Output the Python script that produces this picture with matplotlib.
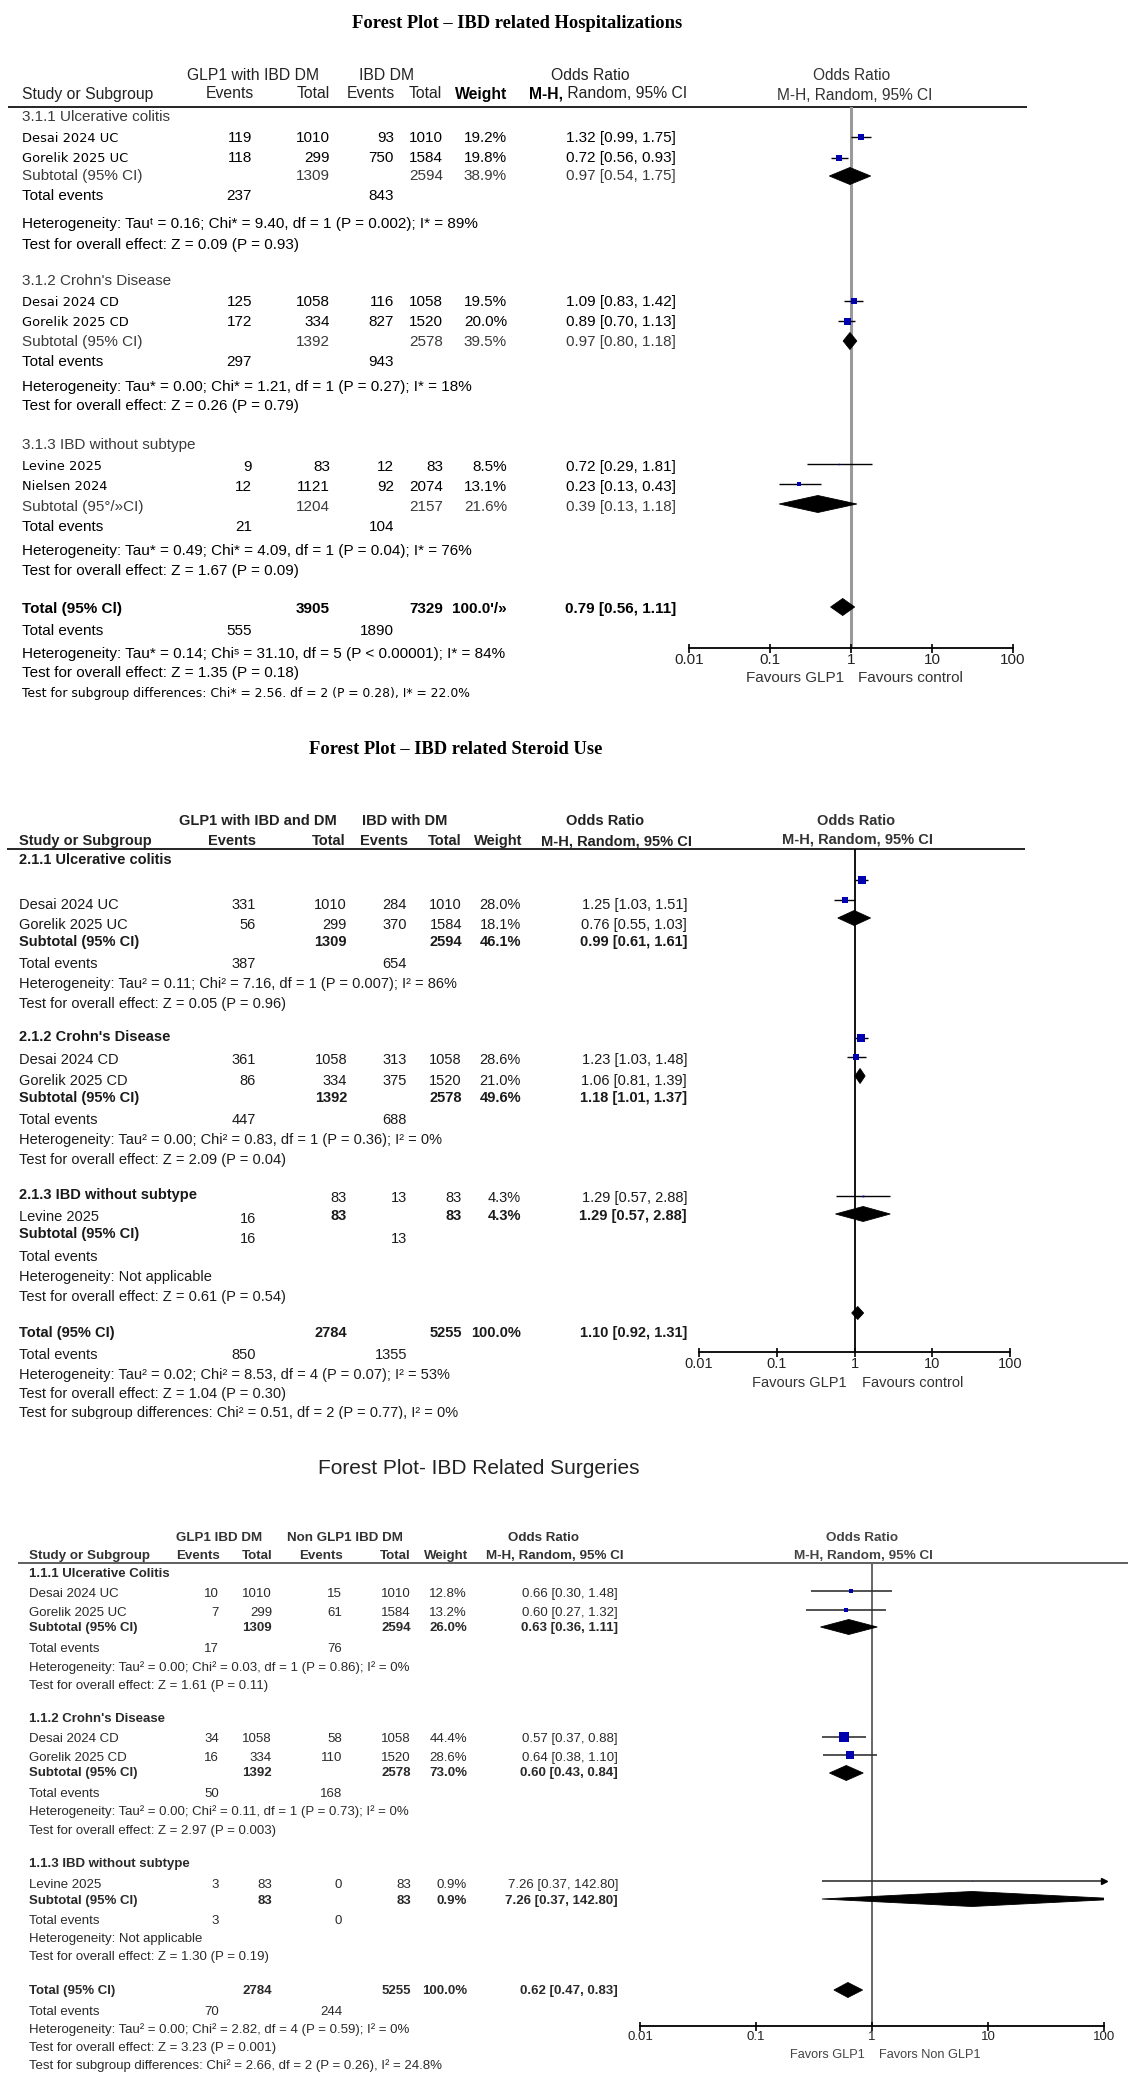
import matplotlib
matplotlib.use("Agg")
import matplotlib.pyplot as plt
from matplotlib.patches import Polygon, Rectangle
from matplotlib.ticker import NullLocator, FixedLocator, FixedFormatter

SANS = ['Liberation Sans', 'DejaVu Sans']
SERIF = ['Liberation Serif', 'DejaVu Serif']
plt.rcParams['font.family'] = SANS

# ======================= DATA =======================
tick_vals = [0.01, 0.1, 1, 10, 100]
tick_labels = ["0.01", "0.1", "1", "10", "100"]

# ---- Panel 1: IBD related hospitalizations ----
hosp_title = "Forest Plot – IBD related Hospitalizations"
hosp_groups = ["3.1.1 Ulcerative colitis", "3.1.2 Crohn's Disease", "3.1.3 IBD without subtype"]
hosp_studies = ["Desai 2024 UC", "Gorelik 2025 UC", "Desai 2024 CD", "Gorelik 2025 CD", "Levine 2025", "Nielsen 2024"]
hosp_ev1 = [119, 118, 125, 172, 9, 12]
hosp_tot1 = [1010, 299, 1058, 334, 83, 1121]
hosp_ev2 = [93, 750, 116, 827, 12, 92]
hosp_tot2 = [1010, 1584, 1058, 1520, 83, 2074]
hosp_wt = [19.2, 19.8, 19.5, 20.0, 8.5, 13.1]
hosp_or = [1.32, 0.72, 1.09, 0.89, 0.72, 0.23]
hosp_lo = [0.99, 0.56, 0.83, 0.70, 0.29, 0.13]
hosp_hi = [1.75, 0.93, 1.42, 1.13, 1.81, 0.43]
hosp_sub_label = ["Subtotal (95% CI)", "Subtotal (95% CI)", "Subtotal (95°/»CI)"]
hosp_sub_tot1 = [1309, 1392, 1204]
hosp_sub_tot2 = [2594, 2578, 2157]
hosp_sub_wt = [38.9, 39.5, 21.6]
hosp_sub_or = [0.97, 0.97, 0.39]
hosp_sub_lo = [0.54, 0.80, 0.13]
hosp_sub_hi = [1.75, 1.18, 1.18]
hosp_sub_ev1 = [237, 297, 21]
hosp_sub_ev2 = [843, 943, 104]
hosp_het = ["Heterogeneity: Tauᵗ = 0.16; Chi* = 9.40, df = 1 (P = 0.002); I* = 89%",
            "Heterogeneity: Tau* = 0.00; Chi* = 1.21, df = 1 (P = 0.27); I* = 18%",
            "Heterogeneity: Tau* = 0.49; Chi* = 4.09, df = 1 (P = 0.04); I* = 76%"]
hosp_test = ["Test for overall effect: Z = 0.09 (P = 0.93)",
             "Test for overall effect: Z = 0.26 (P = 0.79)",
             "Test for overall effect: Z = 1.67 (P = 0.09)"]
hosp_total = [3905, 7329, "100.0'/»", 0.79, 0.56, 1.11]
hosp_total_ev = [555, 1890]
hosp_total_het = "Heterogeneity: Tau* = 0.14; Chiˢ = 31.10, df = 5 (P < 0.00001); I* = 84%"
hosp_total_test = "Test for overall effect: Z = 1.35 (P = 0.18)"
hosp_subgroup = "Test for subgroup differences: Chi* = 2.56. df = 2 (P = 0.28), I* = 22.0%"

# ---- Panel 2: IBD related steroid use ----
ster_title = "Forest Plot – IBD related Steroid Use"
ster_groups = ["2.1.1 Ulcerative colitis", "2.1.2 Crohn's Disease", "2.1.3 IBD without subtype"]
ster_studies = ["Desai 2024 UC", "Gorelik 2025 UC", "Desai 2024 CD", "Gorelik 2025 CD", "Levine 2025"]
ster_ev1 = [331, 56, 361, 86, 16]
ster_tot1 = [1010, 299, 1058, 334, 83]
ster_ev2 = [284, 370, 313, 375, 13]
ster_tot2 = [1010, 1584, 1058, 1520, 83]
ster_wt = [28.0, 18.1, 28.6, 21.0, 4.3]
ster_or = [1.25, 0.76, 1.23, 1.06, 1.29]
ster_lo = [1.03, 0.55, 1.03, 0.81, 0.57]
ster_hi = [1.51, 1.03, 1.48, 1.39, 2.88]
ster_sub_tot1 = [1309, 1392, 83]
ster_sub_tot2 = [2594, 2578, 83]
ster_sub_wt = [46.1, 49.6, 4.3]
ster_sub_or = [0.99, 1.18, 1.29]
ster_sub_lo = [0.61, 1.01, 0.57]
ster_sub_hi = [1.61, 1.37, 2.88]
ster_sub_ev1 = [387, 447, 16]
ster_sub_ev2 = [654, 688, 13]
ster_het = ["Heterogeneity: Tau² = 0.11; Chi² = 7.16, df = 1 (P = 0.007); I² = 86%",
            "Heterogeneity: Tau² = 0.00; Chi² = 0.83, df = 1 (P = 0.36); I² = 0%",
            "Heterogeneity: Not applicable"]
ster_test = ["Test for overall effect: Z = 0.05 (P = 0.96)",
             "Test for overall effect: Z = 2.09 (P = 0.04)",
             "Test for overall effect: Z = 0.61 (P = 0.54)"]
ster_total = [2784, 5255, "100.0%", 1.10, 0.92, 1.31]
ster_total_ev = [850, 1355]
ster_total_het = "Heterogeneity: Tau² = 0.02; Chi² = 8.53, df = 4 (P = 0.07); I² = 53%"
ster_total_test = "Test for overall effect: Z = 1.04 (P = 0.30)"
ster_subgroup = "Test for subgroup differences: Chi² = 0.51, df = 2 (P = 0.77), I² = 0%"

# ---- Panel 3: IBD related surgeries ----
surg_title = "Forest Plot- IBD Related Surgeries"
surg_groups = ["1.1.1 Ulcerative Colitis", "1.1.2 Crohn's Disease", "1.1.3 IBD without subtype"]
surg_studies = ["Desai 2024 UC", "Gorelik 2025 UC", "Desai 2024 CD", "Gorelik 2025 CD", "Levine 2025"]
surg_ev1 = [10, 7, 34, 16, 3]
surg_tot1 = [1010, 299, 1058, 334, 83]
surg_ev2 = [15, 61, 58, 110, 0]
surg_tot2 = [1010, 1584, 1058, 1520, 83]
surg_wt = [12.8, 13.2, 44.4, 28.6, 0.9]
surg_or = [0.66, 0.60, 0.57, 0.64, 7.26]
surg_lo = [0.30, 0.27, 0.37, 0.38, 0.37]
surg_hi = [1.48, 1.32, 0.88, 1.10, 142.80]
surg_sub_tot1 = [1309, 1392, 83]
surg_sub_tot2 = [2594, 2578, 83]
surg_sub_wt = [26.0, 73.0, 0.9]
surg_sub_or = [0.63, 0.60, 7.26]
surg_sub_lo = [0.36, 0.43, 0.37]
surg_sub_hi = [1.11, 0.84, 142.80]
surg_sub_ev1 = [17, 50, 3]
surg_sub_ev2 = [76, 168, 0]
surg_het = ["Heterogeneity: Tau² = 0.00; Chi² = 0.03, df = 1 (P = 0.86); I² = 0%",
            "Heterogeneity: Tau² = 0.00; Chi² = 0.11, df = 1 (P = 0.73); I² = 0%",
            "Heterogeneity: Not applicable"]
surg_test = ["Test for overall effect: Z = 1.61 (P = 0.11)",
             "Test for overall effect: Z = 2.97 (P = 0.003)",
             "Test for overall effect: Z = 1.30 (P = 0.19)"]
surg_total = [2784, 5255, "100.0%", 0.62, 0.47, 0.83]
surg_total_ev = [70, 244]
surg_total_het = "Heterogeneity: Tau² = 0.00; Chi² = 2.82, df = 4 (P = 0.59); I² = 0%"
surg_total_test = "Test for overall effect: Z = 3.23 (P = 0.001)"
surg_subgroup = "Test for subgroup differences: Chi² = 2.66, df = 2 (P = 0.26), I² = 24.8%"

# ======================= HELPERS =======================
W, H = 1148, 2092
fig = plt.figure(figsize=(W / 100, H / 100), dpi=100)
fig.patch.set_facecolor('white')
bg = fig.add_axes([0, 0, 1, 1])
bg.set_xlim(0, W)
bg.set_ylim(H, 0)
bg.axis('off')
BLUE = '#0000b0'


def txt(x, y, s, ha='left', size=10, weight='normal', color='black', family=SANS, z=3):
    return bg.text(x, y, s, ha=ha, va='center', fontsize=size, fontweight=weight,
                   color=color, family=family, zorder=z)


def fmt_or(e, l, h):
    return f"{e:.2f} [{l:.2f}, {h:.2f}]"


def pct(w):
    return f"{w:.1f}%"


def hline(x0, x1, y, lw=1.2, color='black'):
    bg.plot([x0, x1], [y, y], color=color, lw=lw, solid_capstyle='butt', zorder=2)


def forest(x001, x100, ytop, ybot, lab_size, lab_color, spine_lw=1.3):
    ax = fig.add_axes([x001 / W, 1 - ybot / H, (x100 - x001) / W, (ybot - ytop) / H])
    ax.set_xscale('log')
    ax.set_xlim(0.01, 100)
    ax.set_ylim(ybot, ytop)
    ax.patch.set_visible(False)
    for s in ('top', 'left', 'right'):
        ax.spines[s].set_visible(False)
    ax.spines['bottom'].set_linewidth(spine_lw)
    ax.set_yticks([])
    ax.xaxis.set_major_locator(FixedLocator(tick_vals))
    ax.xaxis.set_major_formatter(FixedFormatter(tick_labels))
    ax.xaxis.set_minor_locator(NullLocator())
    ax.tick_params(axis='x', direction='inout', length=9 * 0.72, width=1.2, pad=0,
                   labelsize=lab_size, labelcolor=lab_color)
    return ax


def study_mark(ax, est, lo, hi, y, size_px, ci_color='black', lw=1.0):
    ax.plot([lo, min(hi, 100)], [y, y], color=ci_color, lw=lw, solid_capstyle='butt', zorder=2)
    if hi > 100:
        ax.plot([100], [y], marker='>', ms=5, color='black', clip_on=False, zorder=3)
    ax.plot([est], [y], marker='s', ms=max(size_px, 0.3) * 0.72, color=BLUE, mec=BLUE, mew=0, zorder=3)


def diamond(ax, est, lo, hi, y, h):
    ax.add_patch(Polygon([[lo, y], [est, y - h], [hi, y], [est, y + h]], closed=True,
                         fc='black', ec='black', lw=0.6, zorder=3))


def favours(ax, left, right, dy, gap, size, color):
    ax.annotate(left, xy=(1, 0), xycoords=('data', 'axes fraction'),
                xytext=(-gap * 0.72, -dy * 0.72), textcoords='offset points',
                ha='right', va='center', fontsize=size, color=color, annotation_clip=False)
    ax.annotate(right, xy=(1, 0), xycoords=('data', 'axes fraction'),
                xytext=(gap * 0.72, -dy * 0.72), textcoords='offset points',
                ha='left', va='center', fontsize=size, color=color, annotation_clip=False)


def vals_row(c, y, vals, size, weight='normal', color='black', keys=('ev1', 'tot1', 'ev2', 'tot2', 'wt', 'orr')):
    for k, v in zip(keys, vals):
        if v is None:
            continue
        txt(c[k], y, str(v), ha='right', size=size, weight=weight, color=color)


# ======================= PANEL 1 =======================
c1 = dict(ev1=252, tot1=330, ev2=394, tot2=443, wt=507, orr=676)
fs1 = 11
g1 = '#3a3a3a'
txt(517, 24, hosp_title, ha='center', size=13.3, weight='bold', family=SERIF)
txt(187, 76, "GLP1 with IBD DM", size=11.3, color='#222')
txt(359, 76, "IBD DM", size=11.3, color='#222')
txt(590, 76, "Odds Ratio", ha='center', size=11.3, color='#222')
txt(22, 94, "Study or Subgroup", size=11.3, color='#222')
for x, s in [(254, "Events"), (330, "Total"), (395, "Events"), (442, "Total")]:
    txt(x, 94, s, ha='right', size=11.3, color='#222')
txt(507, 94, "Weight", ha='right', size=11.3, weight='bold')
t_mh = txt(529, 94, "M-H,", size=11.3, weight='bold')
bg.annotate(" Random, 95% CI", xy=(1, 0.5), xycoords=t_mh, va='center', ha='left',
            fontsize=11.3, color='#222')
hline(8, 1027, 107)

h_grp_y = [117, 281, 445]
h_study_y = [138, 158, 302, 322, 467, 487]
h_mark_y = [137, 158, 301, 321, 464, 484]
h_sub_y = [176, 342, 507]
h_dia_y = [176, 341, 504]
h_tev_y = [196, 362, 527]
h_het_y = [224, 387, 551]
h_test_y = [245, 406, 571]
h_group_of = [0, 0, 1, 1, 2, 2]

ax1 = forest(689, 1013, 107, 648, 11, '#222')
ax1.axvline(1, color='#9a9a9a', lw=2.2, zorder=1)
txt(852, 75, "Odds Ratio", ha='center', size=11.2, color='#333')
txt(855, 95, "M-H, Random, 95% CI", ha='center', size=11.2, color='#333')
favours(ax1, "Favours GLP1", "Favours control", 30, 7, 11, '#333')

for g in range(3):
    txt(22, h_grp_y[g], hosp_groups[g], size=fs1, color=g1)
    for i in [k for k, gg in enumerate(h_group_of) if gg == g]:
        y = h_study_y[i]
        txt(22, y, hosp_studies[i], size=9.4, family=['DejaVu Sans'])
        vals_row(c1, y, [hosp_ev1[i], hosp_tot1[i], hosp_ev2[i], hosp_tot2[i], pct(hosp_wt[i]),
                         fmt_or(hosp_or[i], hosp_lo[i], hosp_hi[i])], fs1)
        box = 7 * (max(hosp_wt[i] - 8.0, 0) / 12.0) ** 0.5
        study_mark(ax1, hosp_or[i], hosp_lo[i], hosp_hi[i], h_mark_y[i], box)
    y = h_sub_y[g]
    txt(22, y, hosp_sub_label[g], size=fs1, color=g1)
    vals_row(c1, y, [None, hosp_sub_tot1[g], None, hosp_sub_tot2[g], pct(hosp_sub_wt[g]),
                     fmt_or(hosp_sub_or[g], hosp_sub_lo[g], hosp_sub_hi[g])], fs1, color=g1)
    diamond(ax1, hosp_sub_or[g], hosp_sub_lo[g], hosp_sub_hi[g], h_dia_y[g], 8.5)
    txt(22, h_tev_y[g], "Total events", size=fs1)
    vals_row(c1, h_tev_y[g], [hosp_sub_ev1[g], None, hosp_sub_ev2[g]], fs1)
    txt(22, h_het_y[g], hosp_het[g], size=fs1)
    txt(22, h_test_y[g], hosp_test[g], size=fs1)

txt(22, 609, "Total (95% Cl)", size=fs1, weight='bold')
vals_row(c1, 609, [None, hosp_total[0], None, hosp_total[1], hosp_total[2],
                   fmt_or(hosp_total[3], hosp_total[4], hosp_total[5])], fs1, weight='bold')
diamond(ax1, hosp_total[3], hosp_total[4], hosp_total[5], 607, 8.5)
txt(22, 631, "Total events", size=fs1)
vals_row(c1, 631, [hosp_total_ev[0], None, hosp_total_ev[1]], fs1)
txt(22, 654, hosp_total_het, size=fs1)
txt(22, 673, hosp_total_test, size=fs1)
txt(22, 693, hosp_subgroup, size=8.9, family=['DejaVu Sans'])

# ======================= PANEL 2 =======================
c2 = dict(ev1=256, tot1=347, ev2=407, tot2=462, wt=521, orr=687)
fs2 = 10.5
k2 = '#1a1a1a'
txt(456, 750, ster_title, ha='center', size=13.3, weight='bold', family=SERIF)
txt(179, 821, "GLP1 with IBD and DM", size=10.5, weight='bold', color='#222')
txt(362, 821, "IBD with DM", size=10.5, weight='bold', color='#222')
txt(605, 821, "Odds Ratio", ha='center', size=10.5, weight='bold', color='#222')
txt(19, 841, "Study or Subgroup", size=10.5, weight='bold', color='#222')
for x, s in [(256, "Events"), (346, "Total"), (408, "Events"), (461, "Total"), (522, "Weight"),
             (692, "M-H, Random, 95% CI")]:
    txt(x, 841, s, ha='right', size=10.5, weight='bold', color='#222')
hline(7, 1025, 849)

s_grp_y = [860, 1037, 1195]
s_study_y = [905, 925, 1060, 1081]
s_mark_y = [880, 900, 1038, 1057, 1196]
s_sub_y = [942, 1098]
s_dia_y = [918, 1076, 1214]
s_tev_y = [964, 1120]
s_het_y = [984, 1140, 1277]
s_test_y = [1004, 1160, 1297]

ax2 = forest(699, 1010, 849, 1352, 10.5, '#222')
ax2.axvline(1, color='black', lw=1.3, zorder=1)
txt(856, 821, "Odds Ratio", ha='center', size=10.5, weight='bold', color='#333')
txt(857, 840, "M-H, Random, 95% CI", ha='center', size=10.5, weight='bold', color='#333')
favours(ax2, "Favours GLP1", "Favours control", 31, 8, 10.5, '#333')

for i in range(5):
    study_mark(ax2, ster_or[i], ster_lo[i], ster_hi[i], s_mark_y[i], 7.5 * (ster_wt[i] / 28.6) ** 0.75)
for g in range(3):
    diamond(ax2, ster_sub_or[g], ster_sub_lo[g], ster_sub_hi[g], s_dia_y[g], 7.5)
    txt(19, s_grp_y[g], ster_groups[g], size=fs2, weight='bold', color=k2)
    txt(19, s_het_y[g], ster_het[g], size=fs2, color=k2)
    txt(19, s_test_y[g], ster_test[g], size=fs2, color=k2)
for g in range(2):
    for i in (2 * g, 2 * g + 1):
        y = s_study_y[i]
        txt(19, y, ster_studies[i], size=fs2, color=k2)
        vals_row(c2, y, [ster_ev1[i], ster_tot1[i], ster_ev2[i], ster_tot2[i], pct(ster_wt[i]),
                         fmt_or(ster_or[i], ster_lo[i], ster_hi[i])], fs2, color=k2)
    y = s_sub_y[g]
    txt(19, y, "Subtotal (95% CI)", size=fs2, weight='bold', color=k2)
    vals_row(c2, y, [None, ster_sub_tot1[g], None, ster_sub_tot2[g], pct(ster_sub_wt[g]),
                     fmt_or(ster_sub_or[g], ster_sub_lo[g], ster_sub_hi[g])], fs2, weight='bold', color=k2)
    txt(19, s_tev_y[g], "Total events", size=fs2, color=k2)
    vals_row(c2, s_tev_y[g], [ster_sub_ev1[g], None, ster_sub_ev2[g]], fs2, color=k2)
# third group (rows displaced as in the source figure)
vals_row(c2, 1198, [None, ster_tot1[4], ster_ev2[4], ster_tot2[4], pct(ster_wt[4]),
                    fmt_or(ster_or[4], ster_lo[4], ster_hi[4])], fs2, color=k2)
txt(19, 1217, ster_studies[4], size=fs2, color=k2)
vals_row(c2, 1219, [ster_ev1[4]], fs2, color=k2)
vals_row(c2, 1216, [None, ster_sub_tot1[2], None, ster_sub_tot2[2], pct(ster_sub_wt[2]),
                    fmt_or(ster_sub_or[2], ster_sub_lo[2], ster_sub_hi[2])], fs2, weight='bold', color=k2)
txt(19, 1234, "Subtotal (95% CI)", size=fs2, weight='bold', color=k2)
vals_row(c2, 1239, [ster_sub_ev1[2], None, ster_sub_ev2[2]], fs2, color=k2)
txt(19, 1257, "Total events", size=fs2, color=k2)

txt(19, 1333, "Total (95% CI)", size=fs2, weight='bold', color=k2)
vals_row(c2, 1333, [None, ster_total[0], None, ster_total[1], ster_total[2],
                    fmt_or(ster_total[3], ster_total[4], ster_total[5])], fs2, weight='bold', color=k2)
diamond(ax2, ster_total[3], ster_total[4], ster_total[5], 1313, 6.5)
txt(19, 1355, "Total events", size=fs2, color=k2)
vals_row(c2, 1355, [ster_total_ev[0], None, ster_total_ev[1]], fs2, color=k2)
txt(19, 1375, ster_total_het, size=fs2, color=k2)
txt(19, 1394, ster_total_test, size=fs2, color=k2)
txt(19, 1413, ster_subgroup, size=fs2, color=k2)
bg.add_patch(Rectangle((0, 1419), 720, 22, fc='white', ec='none', zorder=10))

# ======================= PANEL 3 =======================
c3 = dict(ev1=219, tot1=272, ev2=342, tot2=411, wt=467, orr=618)
fs3 = 9.5
k3 = '#2a2a2a'
txt(479, 1469, surg_title, ha='center', size=15, color='#222')
txt(176, 1538, "GLP1 IBD DM", size=9.6, weight='bold', color='#333')
txt(287, 1538, "Non GLP1 IBD DM", size=9.6, weight='bold', color='#333')
txt(544, 1538, "Odds Ratio", ha='center', size=9.6, weight='bold', color='#333')
txt(29, 1556, "Study or Subgroup", size=9.6, weight='bold', color='#333')
for x, s in [(220, "Events"), (273, "Total"), (343, "Events"), (411, "Total"), (468, "Weight"),
             (624, "M-H, Random, 95% CI")]:
    txt(x, 1556, s, ha='right', size=9.6, weight='bold', color='#333')
hline(18, 1128, 1563, lw=1.2, color='#444')

u_grp_y = [1574, 1719, 1864]
u_study_y = [1594, 1613, 1739, 1758, 1885]
u_mark_y = [1591, 1610, 1737, 1755, 1881]
u_sub_y = [1628, 1773, 1901]
u_dia_y = [1627, 1773, 1899]
u_tev_y = [1649, 1794, 1921]
u_het_y = [1668, 1812, 1939]
u_test_y = [1686, 1831, 1957]
u_group_of = [0, 0, 1, 1, 2]

ax3 = forest(640, 1104, 1563, 2026, 9.5, '#222')
ax3.axvline(1, color='#666666', lw=1.4, zorder=1)
txt(862, 1538, "Odds Ratio", ha='center', size=9.7, weight='bold', color='#444')
txt(863, 1556, "M-H, Random, 95% CI", ha='center', size=9.7, weight='bold', color='#444')
favours(ax3, "Favors GLP1", "Favors Non GLP1", 29, 7, 9.2, '#444')

for g in range(3):
    txt(29, u_grp_y[g], surg_groups[g], size=fs3, weight='bold', color=k3)
    for i in [k for k, gg in enumerate(u_group_of) if gg == g]:
        y = u_study_y[i]
        txt(29, y, surg_studies[i], size=fs3, color=k3)
        vals_row(c3, y, [surg_ev1[i], surg_tot1[i], surg_ev2[i], surg_tot2[i], pct(surg_wt[i]),
                         fmt_or(surg_or[i], surg_lo[i], surg_hi[i])], fs3, color=k3)
        study_mark(ax3, surg_or[i], surg_lo[i], surg_hi[i], u_mark_y[i],
                   10 * (surg_wt[i] / 44.4) ** 0.75, ci_color='#333', lw=1.2)
    y = u_sub_y[g]
    txt(29, y, "Subtotal (95% CI)", size=fs3, weight='bold', color=k3)
    vals_row(c3, y, [None, surg_sub_tot1[g], None, surg_sub_tot2[g], pct(surg_sub_wt[g]),
                     fmt_or(surg_sub_or[g], surg_sub_lo[g], surg_sub_hi[g])], fs3, weight='bold', color=k3)
    diamond(ax3, surg_sub_or[g], surg_sub_lo[g], surg_sub_hi[g], u_dia_y[g], 7.5)
    txt(29, u_tev_y[g], "Total events", size=fs3, color=k3)
    vals_row(c3, u_tev_y[g], [surg_sub_ev1[g], None, surg_sub_ev2[g]], fs3, color=k3)
    txt(29, u_het_y[g], surg_het[g], size=fs3, color=k3)
    txt(29, u_test_y[g], surg_test[g], size=fs3, color=k3)

txt(29, 1991, "Total (95% CI)", size=fs3, weight='bold', color=k3)
vals_row(c3, 1991, [None, surg_total[0], None, surg_total[1], surg_total[2],
                    fmt_or(surg_total[3], surg_total[4], surg_total[5])], fs3, weight='bold', color=k3)
diamond(ax3, surg_total[3], surg_total[4], surg_total[5], 1990, 7.5)
txt(29, 2012, "Total events", size=fs3, color=k3)
vals_row(c3, 2012, [surg_total_ev[0], None, surg_total_ev[1]], fs3, color=k3)
txt(29, 2030, surg_total_het, size=fs3, color=k3)
txt(29, 2048, surg_total_test, size=fs3, color=k3)
txt(29, 2066, surg_subgroup, size=fs3, color=k3)

fig.savefig("out.png", dpi=100, facecolor='white')
